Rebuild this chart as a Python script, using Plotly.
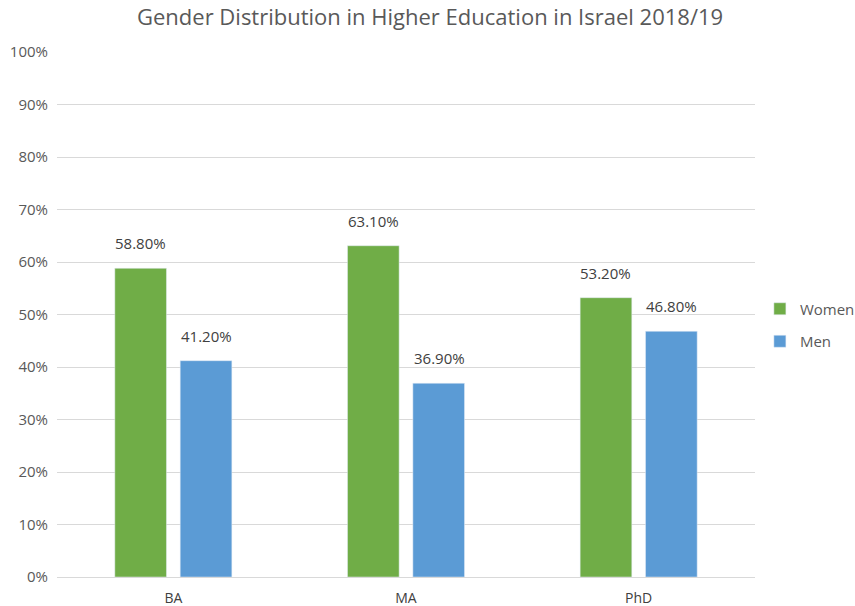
import plotly.graph_objects as go

categories = ["BA", "MA", "PhD"]
women = [58.8, 63.1, 53.2]
men = [41.2, 36.9, 46.8]
series_names = ["Women", "Men"]
colors = ["#70AD47", "#5B9BD5"]

font_family = "Open Sans, Noto Sans, sans-serif"
grey = "#595959"

fig = go.Figure()
for name, vals, col in zip(series_names, [women, men], colors):
    fig.add_trace(go.Bar(
        x=categories, y=vals, name=name, marker_color=col, legendgroup=name,
    ))

# value labels above bars
for vals, shift in zip([women, men], [-33, 33]):
    for c, v in zip(categories, vals):
        fig.add_annotation(x=c, y=v, text=f"{v:.2f}%", showarrow=False,
                           xshift=shift, yshift=25, yanchor="middle",
                           font=dict(size=15, color="#404040", family=font_family))

fig.update_layout(
    width=855, height=606,
    paper_bgcolor="white", plot_bgcolor="white",
    margin=dict(l=57, r=100, t=52, b=29, autoexpand=False),
    title=dict(text="Gender Distribution in Higher Education in Israel 2018/19",
               x=0.503, xanchor="center", y=0.972, yanchor="middle",
               font=dict(size=22, color=grey, family=font_family)),
    barmode="group", bargap=0.438, bargroupgap=0.21,
    font=dict(family=font_family, color=grey, size=14),
    legend=dict(x=1.007, xanchor="left", y=0.48, yanchor="middle",
                font=dict(size=15, color=grey), tracegroupgap=10,
                itemwidth=30),
    showlegend=True,
)
fig.update_yaxes(range=[0, 100], dtick=10, ticksuffix="%",
                 gridcolor="#D9D9D9", gridwidth=1, zeroline=False,
                 showline=False, tickfont=dict(size=15, color=grey),
                 ticklabelstandoff=8)
fig.update_xaxes(showline=True, linecolor="#D9D9D9", linewidth=1,
                 tickfont=dict(size=14, color="#404040"), ticks="",
                 ticklabelstandoff=8)

fig.write_html("out.html", config={"displayModeBar": False},
               post_script="document.body.style.margin='0';document.body.style.padding='0';")
